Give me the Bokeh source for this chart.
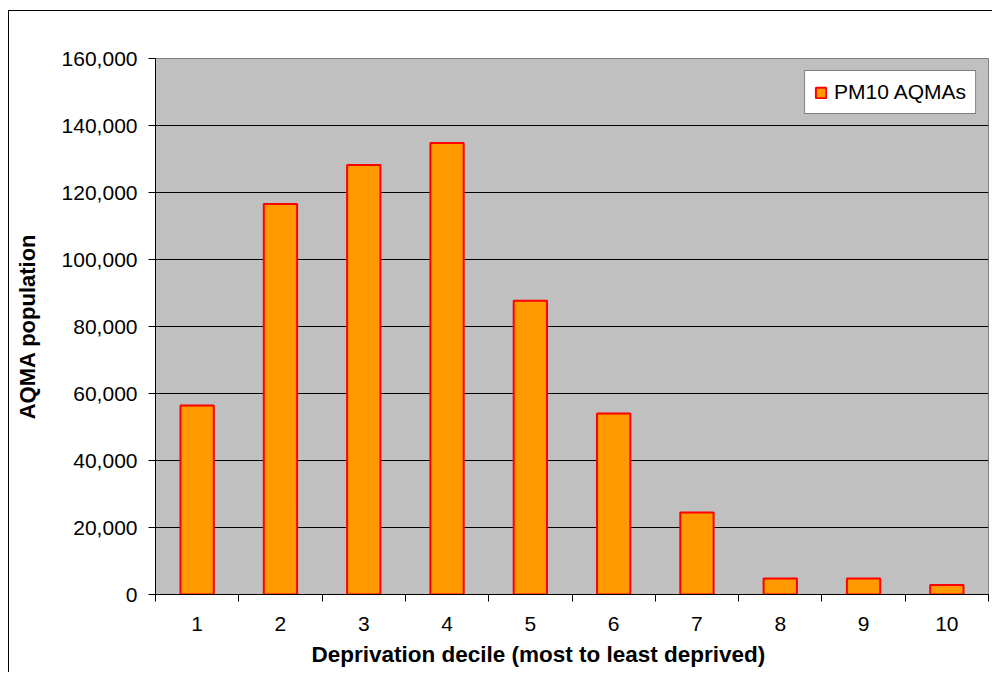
from bokeh.plotting import figure
from bokeh.models import FixedTicker, NumeralTickFormatter, Range1d, Title, Legend, LegendItem
from bokeh.embed import file_html
from bokeh.resources import INLINE

deciles = [1, 2, 3, 4, 5, 6, 7, 8, 9, 10]
population = [56400, 116600, 128200, 134800, 87700, 54000, 24500, 4800, 4800, 2800]
y_ticks = [0, 20000, 40000, 60000, 80000, 100000, 120000, 140000, 160000]
x_bounds = [0.5, 1.5, 2.5, 3.5, 4.5, 5.5, 6.5, 7.5, 8.5, 9.5, 10.5]
series_name = "PM10 AQMAs"
x_label = "Deprivation decile (most to least deprived)"
y_label = "AQMA population"

FONT = "Liberation Sans"

p = figure(width=984, height=662, output_backend="svg", toolbar_location=None,
           x_range=Range1d(0.5, 10.5), y_range=Range1d(0, 160000),
           min_border_left=146, min_border_right=5, min_border_top=47, min_border_bottom=79,
           background_fill_color="#C0C0C0", border_fill_color="white")
p.styles = {"border-left": "1px solid black", "border-top": "1px solid black",
            "margin-top": "10px", "margin-left": "8px"}
p.outline_line_color = "#808080"
p.outline_line_width = 1

bars = p.vbar(x=deciles, top=population, width=0.4, bottom=0,
              fill_color="#FF9900", line_color="#FF0000", line_width=2)

# grid
p.xgrid.grid_line_color = None
p.ygrid.ticker = FixedTicker(ticks=y_ticks)
p.ygrid.grid_line_color = "black"
p.ygrid.grid_line_width = 1

# y axis
ya = p.yaxis[0]
ya.ticker = FixedTicker(ticks=y_ticks)
ya.formatter = NumeralTickFormatter(format="0,0")
ya.major_tick_out = 7
ya.major_tick_in = 0
ya.minor_tick_out = 0
ya.minor_tick_in = 0
ya.major_tick_line_color = "black"
ya.axis_line_color = "black"
ya.major_label_standoff = 11
ya.major_label_text_font = FONT
ya.major_label_text_font_size = "21px"
ya.major_label_text_color = "black"
ya.axis_label = y_label
ya.axis_label_text_font = FONT
ya.axis_label_text_font_size = "22px"
ya.axis_label_text_font_style = "bold"
ya.axis_label_text_color = "black"
ya.axis_label_standoff = 19

# x axis
xa = p.xaxis[0]
xa.ticker = FixedTicker(ticks=deciles, minor_ticks=x_bounds)
xa.major_tick_out = 0
xa.major_tick_in = 0
xa.minor_tick_out = 7
xa.minor_tick_in = 0
xa.minor_tick_line_color = "black"
xa.axis_line_color = "black"
xa.major_label_standoff = 15
xa.major_label_text_font = FONT
xa.major_label_text_font_size = "21px"
xa.major_label_text_color = "black"

xt = Title(text=x_label, align="left", offset=156, standoff=12,
           text_font=FONT, text_font_size="22.5px", text_font_style="bold", text_color="black")
p.add_layout(xt, "below")

legend = Legend(items=[LegendItem(label=series_name, renderers=[bars])],
                location="top_right", margin=12, padding=9, spacing=0,
                glyph_width=13, glyph_height=13, label_standoff=7,
                label_text_font=FONT, label_text_font_size="21px", label_text_color="black",
                border_line_color="black", border_line_width=1,
                background_fill_color="white", background_fill_alpha=1)
p.add_layout(legend)

open("out.html", "w").write(file_html(p, INLINE))
